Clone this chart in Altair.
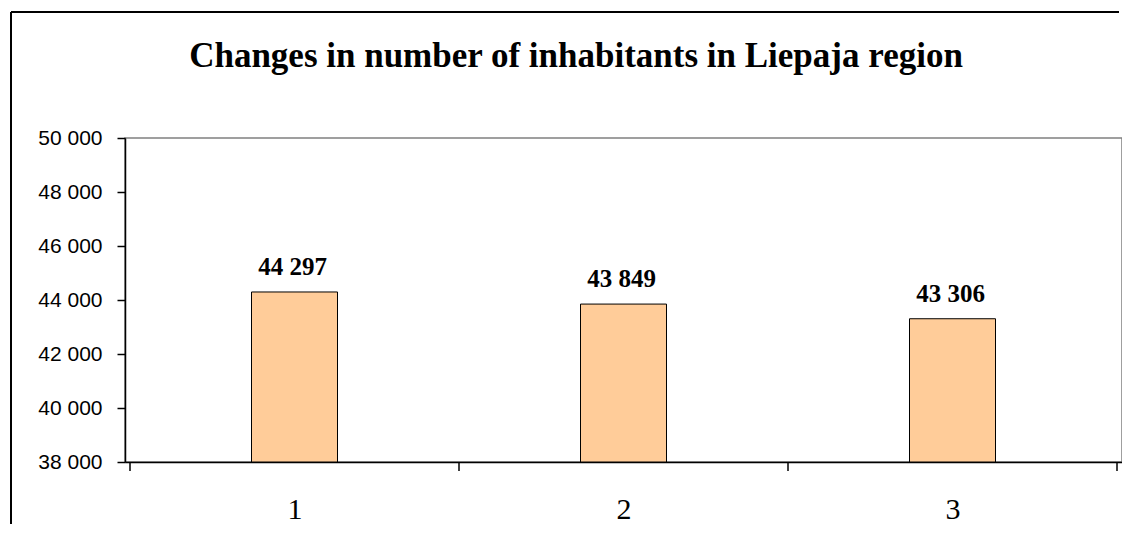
import altair as alt
import pandas as pd

# ---- data ----
categories = [1, 2, 3]
values = [44297, 43849, 43306]
value_labels = ["44 297", "43 849", "43 306"]
y_ticks = [38000, 40000, 42000, 44000, 46000, 48000, 50000]
x_boundaries = [0.5, 1.5, 2.5, 3.5]
title_text = "Changes in number of inhabitants in Liepaja region"

bars_df = pd.DataFrame({"cat": categories, "value": values, "label": value_labels})
bound_df = pd.DataFrame({"b": x_boundaries})
one_df = pd.DataFrame({"t": [title_text]})

W, H = 997, 324
PL, PT = 117, 130

x_scale = alt.Scale(domain=[0.5, 3.5], nice=False, zero=False)
y_scale = alt.Scale(domain=[38000, 50000], nice=False, zero=False)

x_axis = alt.Axis(values=categories, format="d", tickSize=0, labelPadding=56,
                  labelBaseline="alphabetic", labelFont="Liberation Serif",
                  labelFontSize=30, labelColor="black", domainColor="black",
                  domainWidth=1.5, grid=False, title=None, labelAngle=0)
y_axis = alt.Axis(values=y_ticks, labelExpr="replace(format(datum.value, ','), ',', ' ')",
                  tickSize=8, tickColor="black", tickWidth=1.5, labelPadding=15,
                  labelFont="Liberation Sans", labelFontSize=21, labelColor="black",
                  domainColor="black", domainWidth=1.5, grid=False, title=None)

bars = alt.Chart(bars_df).mark_bar(size=86, color="#FFCC99", stroke="black", strokeWidth=1).encode(
    x=alt.X("cat:Q", scale=x_scale, axis=x_axis),
    y=alt.Y("value:Q", scale=y_scale, axis=y_axis),
    y2=alt.datum(38000),
)

texts = alt.Chart(bars_df).mark_text(dy=-17, dx=-2, baseline="alphabetic", align="center",
                                     font="Liberation Serif", fontWeight="bold",
                                     fontSize=25, color="black").encode(
    x=alt.X("cat:Q", scale=x_scale),
    y=alt.Y("value:Q", scale=y_scale),
    text="label:N",
)

bticks = alt.Chart(bound_df).mark_rule(color="black", strokeWidth=1.5).encode(
    x=alt.X("b:Q", scale=x_scale),
    y=alt.value(H),
    y2=alt.value(H + 9),
)

# outer chart frame (only its top and left edges are visible in the reference)
frame_top = alt.Chart(one_df).mark_rule(color="black", strokeWidth=2).encode(
    x=alt.value(11 - 8 - PL), x2=alt.value(W - 3), y=alt.value(12 - 8 - PT),
)
frame_left = alt.Chart(one_df).mark_rule(color="black", strokeWidth=2).encode(
    x=alt.value(11 - 8 - PL), y=alt.value(12 - 8 - PT), y2=alt.value(H + 200),
)

title = alt.Chart(one_df).mark_text(font="Liberation Serif", fontWeight="bold", fontSize=35,
                                    baseline="alphabetic", align="center", color="black").encode(
    x=alt.value(576 - 8 - PL), y=alt.value(67 - 8 - PT), text="t:N",
)

chart = alt.layer(frame_top, frame_left, title, bars, texts, bticks).properties(
    width=W, height=H,
    autosize=alt.AutoSizeParams(type="none"),
    padding={"left": PL, "top": PT, "right": 0, "bottom": 62},
    background="white",
).configure_view(stroke="#808080", strokeWidth=1.5)

chart.save("out.html", embed_options={"renderer": "svg", "actions": False})
